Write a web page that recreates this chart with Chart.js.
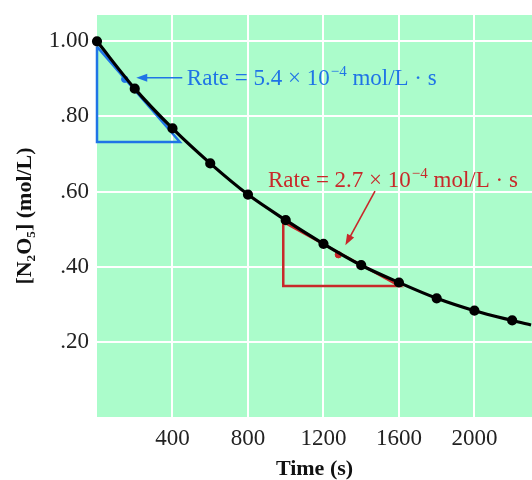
<!DOCTYPE html>
<html>
<head>
<meta charset="utf-8">
<script src="https://cdn.jsdelivr.net/npm/chart.js@4/dist/chart.umd.min.js"></script>
<style>
  html, body { margin: 0; padding: 0; background: #fff; }
  #wrap { width: 532px; height: 480px; }
</style>
</head>
<body>
<div id="wrap"><canvas id="myChart" width="532" height="480"></canvas></div>
<script>
// data
const times = [0, 200, 400, 600, 800, 1000, 1200, 1400, 1600, 1800, 2000, 2200, 2300];
const conc = [1.00, 0.874, 0.768, 0.675, 0.592, 0.524, 0.461, 0.404, 0.358, 0.316, 0.283, 0.257, 0.245];
const markerRadius = [3.5, 3.5, 3.5, 3.5, 3.5, 3.5, 3.5, 3.5, 3.5, 3.5, 3.5, 3.5, 0]; // last value is only where the curve leaves the frame

const xTicks = [400, 800, 1200, 1600, 2000];
const yTicks = [0.20, 0.40, 0.60, 0.80, 1.00];

// tangent triangles
const blueTriX = [0, 0, 439, 0];
const blueTriY = [0.986, 0.732, 0.732, 0.986];
const redTriX = [987, 987, 1602, 987];
const redTriY = [0.519, 0.349, 0.349, 0.519];

// tangent points
const bluePoint = [147, 0.899];
const redPoint = [1279, 0.432];

const blueRate = ['Rate = 5.4 \u00d7 10', '\u22124', ' mol/L \u00b7 s'];
const redRate = ['Rate = 2.7 \u00d7 10', '\u22124', ' mol/L \u00b7 s'];

const BLUE = '#1f74e6';
const RED = '#c8282a';
const GREEN = '#abfccb';
const SERIF = '"Liberation Serif", "Times New Roman", serif';

const pts = (xs, ys) => xs.map((x, i) => ({x: x, y: ys[i]}));

// label + arrow placement (data units)
const notes = [
  {text: blueRate, color: BLUE, at: [476, 0.884], arrow: [[452, 0.903], [208, 0.903]]},
  {text: redRate, color: RED, at: [906, 0.613], arrow: [[1473, 0.601], [1316, 0.457]]}
];

const bgPlugin = {
  id: 'bg',
  beforeDraw(chart) {
    const a = chart.chartArea, c = chart.ctx;
    c.save();
    c.fillStyle = GREEN;
    c.fillRect(a.left, a.top, a.right - a.left, a.bottom - a.top);
    c.restore();
  }
};

const notePlugin = {
  id: 'notes',
  afterDatasetsDraw(chart) {
    const c = chart.ctx, xs = chart.scales.x, ys = chart.scales.y;
    notes.forEach(n => {
      c.save();
      c.fillStyle = n.color;
      c.strokeStyle = n.color;
      // arrow
      const x1 = xs.getPixelForValue(n.arrow[0][0]), y1 = ys.getPixelForValue(n.arrow[0][1]);
      const x2 = xs.getPixelForValue(n.arrow[1][0]), y2 = ys.getPixelForValue(n.arrow[1][1]);
      const ang = Math.atan2(y2 - y1, x2 - x1);
      c.lineWidth = 1.6;
      c.beginPath();
      c.moveTo(x1, y1);
      c.lineTo(x2 - 6 * Math.cos(ang), y2 - 6 * Math.sin(ang));
      c.stroke();
      c.beginPath();
      c.moveTo(x2, y2);
      c.lineTo(x2 - 11 * Math.cos(ang) + 4 * Math.sin(ang), y2 - 11 * Math.sin(ang) - 4 * Math.cos(ang));
      c.lineTo(x2 - 11 * Math.cos(ang) - 4 * Math.sin(ang), y2 - 11 * Math.sin(ang) + 4 * Math.cos(ang));
      c.closePath();
      c.fill();
      // text with superscript
      let x = xs.getPixelForValue(n.at[0]);
      const y = ys.getPixelForValue(n.at[1]);
      c.textBaseline = 'alphabetic';
      c.font = '23px ' + SERIF;
      c.fillText(n.text[0], x, y);
      x += c.measureText(n.text[0]).width;
      c.font = '15px ' + SERIF;
      c.fillText(n.text[1], x + 1, y - 9);
      x += c.measureText(n.text[1]).width + 1;
      c.font = '23px ' + SERIF;
      c.fillText(n.text[2], x, y);
      c.restore();
    });
  }
};

const noPad = s => { s.paddingLeft = 0; s.paddingRight = 0; s.paddingTop = 0; s.paddingBottom = 0; };

const ctx = document.getElementById('myChart').getContext('2d');
const chart = new Chart(ctx, {
  type: 'scatter',
  data: {
    datasets: [
      {
        data: pts(times, conc),
        showLine: true,
        borderColor: '#000',
        backgroundColor: '#000',
        borderWidth: 3.2,
        pointRadius: markerRadius,
        cubicInterpolationMode: 'monotone',
        clip: 6,
        order: 0
      },
      {
        data: pts(blueTriX, blueTriY),
        showLine: true,
        borderColor: BLUE,
        borderWidth: 2.5,
        pointRadius: 0,
        clip: 6,
        order: 2
      },
      {
        data: pts(redTriX, redTriY),
        showLine: true,
        borderColor: RED,
        borderWidth: 2.5,
        pointRadius: 0,
        order: 2
      },
      {
        data: [{x: bluePoint[0], y: bluePoint[1]}],
        backgroundColor: BLUE,
        borderColor: BLUE,
        pointRadius: 3.2,
        order: 1
      },
      {
        data: [{x: redPoint[0], y: redPoint[1]}],
        backgroundColor: RED,
        borderColor: RED,
        pointRadius: 3.2,
        order: 1
      }
    ]
  },
  options: {
    responsive: false,
    animation: false,
    layout: {autoPadding: false, padding: {top: 15, right: 0, left: 0, bottom: 0}},
    plugins: {legend: {display: false}, tooltip: {enabled: false}},
    scales: {
      x: {
        type: 'linear',
        min: 0,
        max: 2305,
        afterBuildTicks: s => { s.ticks = xTicks.map(v => ({value: v})); },
        afterFit: s => { s.height = 63; noPad(s); },
        border: {display: false},
        grid: {color: '#ffffff', lineWidth: 2, drawTicks: false},
        ticks: {
          color: '#222',
          padding: 8,
          maxRotation: 0,
          font: {family: SERIF, size: 23},
          callback: v => String(v)
        },
        title: {
          display: true,
          text: 'Time (s)',
          color: '#111',
          padding: 0,
          font: {family: SERIF, size: 22, weight: 'bold', lineHeight: 1}
        }
      },
      y: {
        type: 'linear',
        min: 0,
        max: 1.07,
        afterBuildTicks: s => { s.ticks = yTicks.map(v => ({value: v})); },
        afterFit: s => { s.width = 97; noPad(s); },
        border: {display: false},
        grid: {color: '#ffffff', lineWidth: 2, drawTicks: false},
        ticks: {
          color: '#222',
          padding: 8,
          font: {family: SERIF, size: 23},
          callback: v => v.toFixed(2).replace(/^0/, '')
        },
        title: {
          display: true,
          text: '[N\u2082O\u2085] (mol/L)',
          color: '#111',
          padding: {top: 14, bottom: 0},
          font: {family: SERIF, size: 22, weight: 'bold', lineHeight: 1}
        }
      }
    }
  },
  plugins: [bgPlugin, notePlugin]
});
</script>
</body>
</html>
